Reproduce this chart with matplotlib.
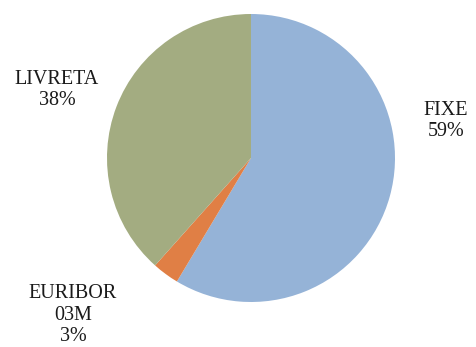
import matplotlib.pyplot as plt

labels = ['FIXE', 'EURIBOR\n03M', 'LIVRETA']
values = [58.6, 3.0, 38.4]
colors = ['#95B3D7', '#E07F45', '#A3AC81']

plt.rcParams['font.family'] = ['Liberation Serif', 'DejaVu Serif']

W, H = 476, 347
fig = plt.figure(figsize=(W / 100, H / 100), dpi=100)
ax = fig.add_axes([0, 0, 1, 1])

ax.pie(values, colors=colors, startangle=90, counterclock=False,
       center=(251, H - 158), radius=144,
       wedgeprops=dict(linewidth=0))

# label positions (pixels from top-left)
label_pos = [(446, 121), (73, 315), (57, 90)]
total = sum(values)
for lab, v, (x, y) in zip(labels, values, label_pos):
    ax.text(x, H - y, '%s\n%d%%' % (lab, round(v / total * 100)),
            ha='center', va='center', fontsize=14.5, color='#1a1a1a',
            linespacing=1.15)

ax.set_xlim(0, W)
ax.set_ylim(0, H)
ax.set_aspect('equal')
ax.axis('off')
fig.savefig('out.png', dpi=100)
